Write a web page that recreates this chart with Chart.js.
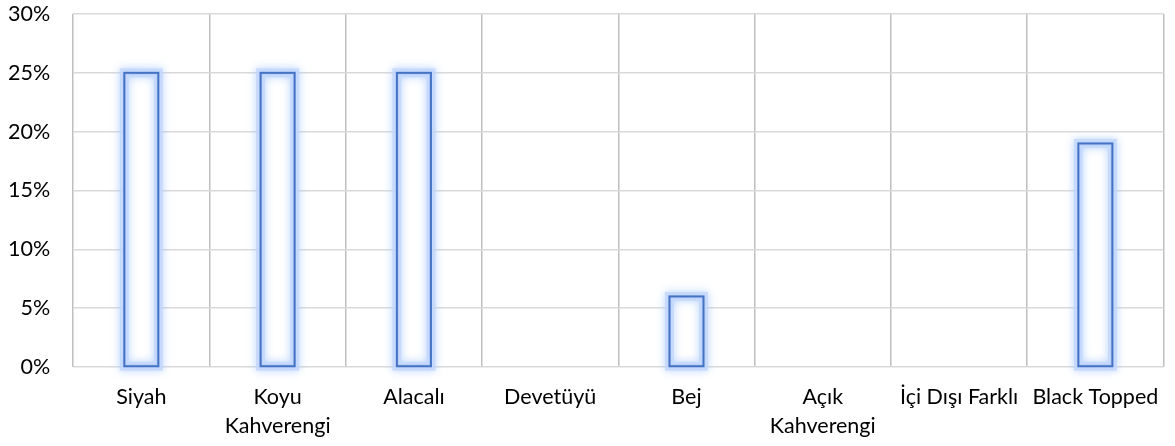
<!DOCTYPE html>
<html>
<head>
<meta charset="utf-8">
<script src="https://cdn.jsdelivr.net/npm/chart.js@4/dist/chart.umd.min.js"></script>
<style>
  html, body { margin: 0; padding: 0; background: #fff; }
  #wrap { width: 1175px; height: 446px; }
</style>
</head>
<body>
<div id="wrap"><canvas id="barChart" width="1175" height="446"></canvas></div>
<script>
var categories = ['Siyah', ['Koyu', 'Kahverengi'], 'Alacalı', 'Devetüyü', 'Bej', ['Açık', 'Kahverengi'], 'İçi Dışı Farklı', 'Black Topped'];
var percentValues = [25, 25, 25, 0, 6, 0, 0, 19];
var yTicks = [0, 5, 10, 15, 20, 25, 30];

var labelFont = { family: 'Lato, Carlito, sans-serif', size: 21.5, lineHeight: 1.35 };

// soft blue glow round the bars, like the Excel effect
var glowPlugin = {
    id: 'glow',
    afterDatasetsDraw: function(chart) {
        var c = chart.ctx;
        var meta = chart.getDatasetMeta(0);
        meta.data.forEach(function(bar, i) {
            if (!percentValues[i]) return;
            var p = bar.getProps(['x', 'y', 'base', 'width'], true);
            var left = p.x - p.width / 2;
            var h = p.base - p.y;
            c.save();
            c.shadowColor = 'rgba(160, 195, 255, 0.9)';
            c.shadowBlur = 8;
            c.strokeStyle = 'rgba(195, 215, 252, 0.8)';
            c.lineWidth = 9;
            c.strokeRect(left, p.y, p.width, h);
            c.restore();
            c.save();
            c.strokeStyle = '#4472c4';
            c.lineWidth = 2;
            c.strokeRect(left, p.y, p.width, h);
            c.restore();
        });
    }
};

var ctx = document.getElementById('barChart').getContext('2d');
var barChart = new Chart(ctx, {
    type: 'bar',
    data: {
        labels: categories,
        datasets: [{
            data: percentValues,
            backgroundColor: '#ffffff',
            borderColor: '#4472c4',
            borderWidth: function(c) { return c.raw === 0 ? 0 : 2; },
            borderSkipped: false,
            categoryPercentage: 1,
            barPercentage: 0.25
        }]
    },
    options: {
        responsive: false,
        animation: false,
        layout: { padding: { left: -15, right: 11, top: 0, bottom: 0 } },
        plugins: {
            legend: { display: false },
            tooltip: { enabled: false }
        },
        scales: {
            x: {
                offset: true,
                grid: { offset: true, color: '#bfbfbf', lineWidth: 1.5, drawTicks: false },
                border: { display: false },
                ticks: { color: '#000', font: labelFont, padding: 16, maxRotation: 0, autoSkip: false },
                afterFit: function(scale) { scale.height = 79; }
            },
            y: {
                min: 0,
                max: 30,
                afterBuildTicks: function(axis) {
                    axis.ticks = yTicks.map(function(v) { return { value: v }; });
                },
                afterFit: function(scale) { scale.paddingTop = 14; scale.paddingBottom = 0; },
                grid: { color: '#d9d9d9', lineWidth: 1.5, drawTicks: false },
                border: { display: false },
                ticks: {
                    color: '#000',
                    font: labelFont,
                    padding: 23,
                    callback: function(v) { return v + '%'; }
                }
            }
        }
    },
    plugins: [glowPlugin]
});
</script>
</body>
</html>
